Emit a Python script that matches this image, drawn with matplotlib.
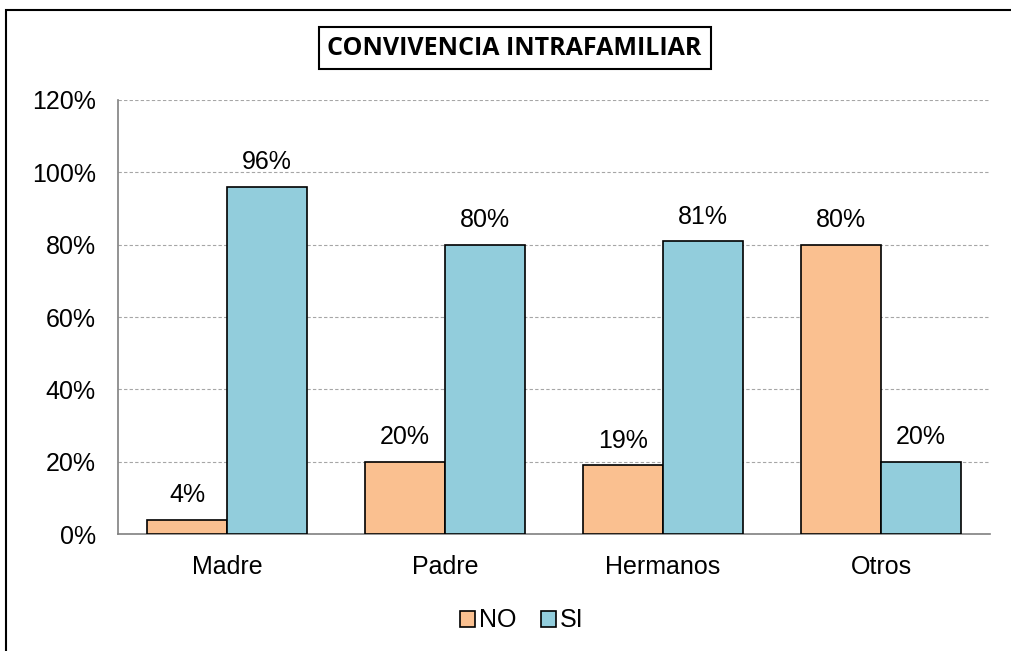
import numpy as np
import matplotlib.pyplot as plt
from matplotlib.patches import Rectangle

categorias = ['Madre', 'Padre', 'Hermanos', 'Otros']
no_vals = [4, 20, 19, 80]
si_vals = [96, 80, 81, 20]
yticks = [0, 20, 40, 60, 80, 100, 120]

plt.rcParams['font.family'] = ['Liberation Sans', 'DejaVu Sans']

fig = plt.figure(figsize=(10.11, 6.51), dpi=100)
ax = fig.add_axes([0.1167, 0.1797, 0.8625, 0.6667])

x = np.arange(len(categorias))
w = 0.367
b1 = ax.bar(x - w / 2, no_vals, w, color='#FAC090', edgecolor='black', linewidth=1.2, label='NO', zorder=3)
b2 = ax.bar(x + w / 2, si_vals, w, color='#92CDDC', edgecolor='black', linewidth=1.2, label='SI', zorder=3)

for bars, vals in ((b1, no_vals), (b2, si_vals)):
    for r, v in zip(bars, vals):
        ax.annotate('%d%%' % v, (r.get_x() + r.get_width() / 2, v), xytext=(0, 9),
                    textcoords='offset points', ha='center', va='bottom', fontsize=18)

ax.set_xlim(-0.5, 3.5)
ax.set_ylim(0, 120)
ax.set_yticks(yticks)
ax.set_yticklabels(['%d%%' % t for t in yticks], fontsize=18)
ax.set_xticks(x)
ax.set_xticklabels(categorias, fontsize=18)
ax.tick_params(length=0)
ax.tick_params(axis='x', pad=15)
ax.tick_params(axis='y', pad=16)
ax.grid(axis='y', color='#a6a6a6', linestyle=(0, (3, 2)), linewidth=0.8, zorder=0)
for s in ('top', 'right'):
    ax.spines[s].set_visible(False)
for s in ('left', 'bottom'):
    ax.spines[s].set_color('#808080')
    ax.spines[s].set_linewidth(1.2)

fig.legend(loc='center', bbox_to_anchor=(0.516, 0.047), ncol=2, frameon=False,
           fontsize=18, handlelength=0.6, handleheight=0.6, handletextpad=0.15,
           columnspacing=1.0)

fig.text(0.509, 0.926, 'CONVIVENCIA INTRAFAMILIAR', ha='center', va='center',
         fontsize=18, fontweight='bold', family=['Open Sans', 'DejaVu Sans'],
         bbox=dict(boxstyle='square,pad=0.35', facecolor='white', edgecolor='black', linewidth=1.5))

fig.patches.append(Rectangle((6 / 1011, -0.1), 1.2, 1 - 10 / 651 + 0.1, transform=fig.transFigure,
                             fill=False, edgecolor='black', linewidth=1.5))

fig.savefig('out.png', dpi=100)
